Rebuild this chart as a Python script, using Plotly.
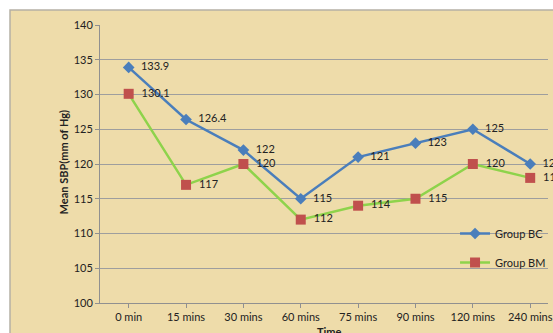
import plotly.graph_objects as go

categories = ["0 min", "15 mins", "30 mins", "60 mins", "75 mins", "90 mins", "120 mins", "240 mins"]
group_bc = [133.9, 126.4, 122, 115, 121, 123, 125, 120]
group_bm = [130.1, 117, 120, 112, 114, 115, 120, 118]
y_ticks = [100, 105, 110, 115, 120, 125, 130, 135, 140]

FONT = "Lato, 'Liberation Sans', sans-serif"
W, H = 553, 333
ML, MR, MT, MB = 100, 0, 25, 30
PW = W - ML - MR
PH = H - MT - MB
STEP = 58.0
xmax = -0.5 + PW / STEP

def fmt(v):
    return ("%g" % v)

fig = go.Figure()
fig.add_trace(go.Scatter(
    x=list(range(len(categories))), y=group_bc, name="Group BC",
    mode="lines+markers+text",
    line=dict(color="#4A7EBB", width=2.5),
    marker=dict(symbol="diamond", size=9, color="#4A7EBB"),
    text=["  " + fmt(v) for v in group_bc], textposition="middle right",
    textfont=dict(family=FONT, size=11, color="#222222"),
    legendgroup="a", cliponaxis=False,
))
fig.add_trace(go.Scatter(
    x=list(range(len(categories))), y=group_bm, name="Group BM",
    mode="lines+markers+text",
    line=dict(color="#8ED34B", width=2.5),
    marker=dict(symbol="square", size=10, color="#C0504D"),
    text=["  " + fmt(v) for v in group_bm], textposition="middle right",
    textfont=dict(family=FONT, size=11, color="#222222"),
    legendgroup="b", cliponaxis=False,
))

# background frame (papyrus-like)
fig.add_shape(type="rect", xref="paper", yref="paper",
              x0=(9 - ML) / PW, x1=(W + 20 - ML) / PW,
              y0=-(MB + 20) / PH, y1=1 + (MT - 10) / PH,
              fillcolor="#EEDCAA", line=dict(color="#B5B0A5", width=1.5),
              layer="below")

fig.add_annotation(text="<b>Time</b>", xref="paper", yref="paper",
                   x=(332 - ML) / PW, y=-(28 / PH),
                   yanchor="middle", showarrow=False,
                   font=dict(family=FONT, size=11, color="#222222"))

fig.add_annotation(text="<b>Mean SBP(mm of Hg)</b>", xref="paper", yref="paper",
                   x=(63 - ML) / PW, y=1 - (162 - MT) / PH,
                   xanchor="center", yanchor="middle", textangle=-90,
                   showarrow=False,
                   font=dict(family=FONT, size=11, color="#222222"))

fig.update_layout(
    width=W, height=H,
    margin=dict(l=ML, r=MR, t=MT, b=MB),
    paper_bgcolor="white", plot_bgcolor="rgba(0,0,0,0)",
    font=dict(family=FONT, size=11, color="#222222"),
    showlegend=True,
    legend=dict(x=(459 - ML) / PW, y=1 - (219 - MT) / PH, xanchor="left", yanchor="top",
                bgcolor="rgba(0,0,0,0)", tracegroupgap=10, itemwidth=30,
                font=dict(family=FONT, size=11, color="#222222")),
    xaxis=dict(
        tickmode="array", tickvals=list(range(len(categories))), ticktext=categories,
        range=[-0.5, xmax], showgrid=False, zeroline=False,
        showline=True, linecolor="#909090", linewidth=1,
        ticks="outside", ticklen=4, tickcolor="#909090",
        tickfont=dict(family=FONT, size=11, color="#222222"),
        ticklabeloverflow="allow", tickson="boundaries",
    ),
    yaxis=dict(
        range=[100, 140], tickmode="array", tickvals=y_ticks,
        showgrid=True, gridcolor="#9E9E9E", gridwidth=1, zeroline=False,
        showline=True, linecolor="#909090", linewidth=1,
        ticks="outside", ticklen=4, tickcolor="#909090",
        tickfont=dict(family=FONT, size=11, color="#222222"),
    ),
)

fig.write_html("out.html")
